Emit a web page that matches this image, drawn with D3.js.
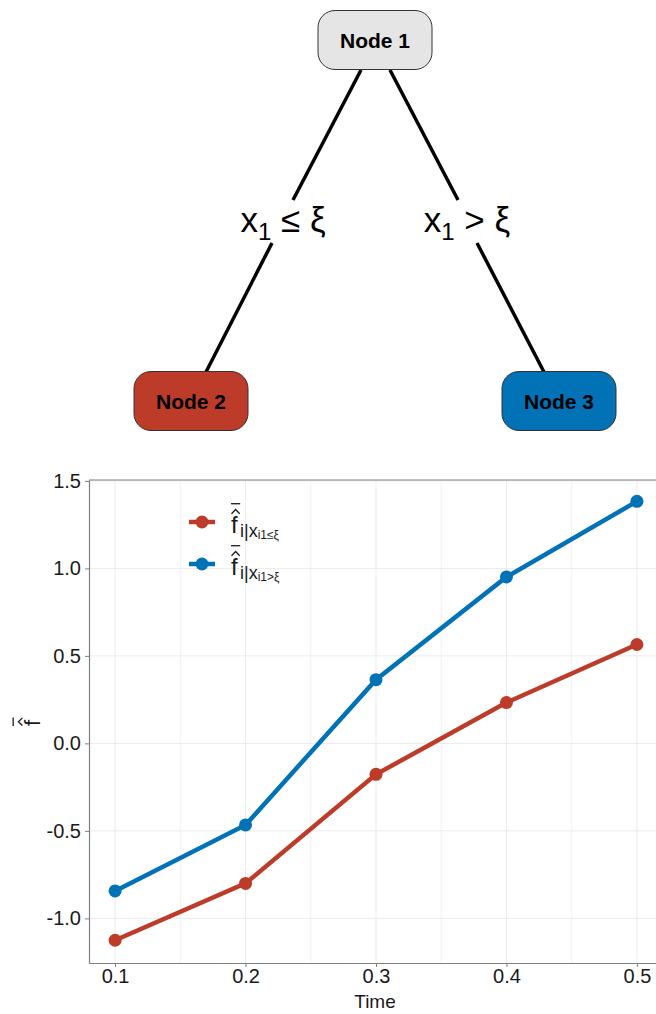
<!DOCTYPE html>
<html>
<head>
<meta charset="utf-8">
<script src="https://cdn.jsdelivr.net/npm/d3@7"></script>
<style>
  body { margin: 0; background: #fff; }
  text { font-family: "Liberation Sans", Arial, sans-serif; }
</style>
</head>
<body>
<svg id="chart" width="656" height="1014"></svg>
<script>
// data
let times = [0.1, 0.2, 0.3, 0.4, 0.5];
let lowVals = [-1.125, -0.80, -0.177, 0.233, 0.565];
let highVals = [-0.843, -0.466, 0.364, 0.951, 1.383];
let xTicks = [0.1, 0.2, 0.3, 0.4, 0.5];
let xMinor = [0.15, 0.25, 0.35, 0.45];
let yTicks = [-1.0, -0.5, 0.0, 0.5, 1.0, 1.5];
let nodeNames = ["Node 1", "Node 2", "Node 3"];
let nodeFills = ["#e5e5e5", "#BC3C29", "#0072B5"];
let splitLabels = ["\u2264", ">"];

let red = "#BC3C29";
let blue = "#0072B5";

let svg = d3.select("#chart");

// ---- tree ----
let nodePos = [[375, 40], [191, 401], [559, 401]];
let boxW = 114, boxH = 59;

// edges, broken around the split labels
let edges = [[361, 70, 293, 200], [272, 243, 206, 372], [390, 70, 458, 200], [477, 243, 544, 372]];
for (let e of edges) {
  svg.append("line")
    .attr("x1", e[0]).attr("y1", e[1])
    .attr("x2", e[2]).attr("y2", e[3])
    .style("stroke", "black")
    .style("stroke-width", 3.5);
}

for (let i = 0; i < nodeNames.length; i++) {
  svg.append("rect")
    .attr("x", nodePos[i][0] - boxW/2)
    .attr("y", nodePos[i][1] - boxH/2)
    .attr("width", boxW)
    .attr("height", boxH)
    .attr("rx", 17)
    .style("fill", nodeFills[i])
    .style("stroke", "#333")
    .style("stroke-width", 1);
  svg.append("text")
    .attr("x", nodePos[i][0])
    .attr("y", nodePos[i][1] + 7.5)
    .text(nodeNames[i])
    .style("text-anchor", "middle")
    .style("font-weight", "bold")
    .style("font-size", 21);
}

// split labels
let splitX = [283, 467];
for (let i = 0; i < splitLabels.length; i++) {
  let t = svg.append("text")
    .attr("x", splitX[i])
    .attr("y", 232)
    .style("text-anchor", "middle")
    .style("font-size", 35);
  t.append("tspan").text("x");
  t.append("tspan").text("1").attr("dy", 8).style("font-size", 24);
  t.append("tspan").text(" " + splitLabels[i] + " \u03BE").attr("dy", -8);
}

// ---- line chart ----
let plot = {left: 89, right: 663, top: 480, bottom: 963};

let x = d3.scaleLinear().domain([0.08, 0.52]).range([plot.left, plot.right]);
let y = d3.scaleLinear().domain([-1.255, 1.505]).range([plot.bottom, plot.top]);

// grid
svg.selectAll(".gx")
  .data(xTicks.concat(xMinor))
  .enter().append("line")
  .attr("x1", d => x(d)).attr("x2", d => x(d))
  .attr("y1", plot.top).attr("y2", plot.bottom)
  .style("stroke", "#ebebeb")
  .style("stroke-width", d => xTicks.includes(d) ? 1 : 0.7);
svg.selectAll(".gy")
  .data(yTicks)
  .enter().append("line")
  .attr("y1", d => y(d)).attr("y2", d => y(d))
  .attr("x1", plot.left).attr("x2", 656)
  .style("stroke", "#ebebeb")
  .style("stroke-width", 1);

// axes
let xAxis = d3.axisBottom(x).tickValues(xTicks).tickSize(4).tickSizeOuter(0).tickPadding(2).tickFormat(d3.format(".1f"));
let yAxis = d3.axisLeft(y).tickValues(yTicks).tickSize(4).tickSizeOuter(0).tickPadding(4).tickFormat(d3.format(".1f"));

let gx = svg.append("g").attr("transform", "translate(0," + plot.bottom + ")").call(xAxis);
let gy = svg.append("g").attr("transform", "translate(" + plot.left + ",0)").call(yAxis);
for (let g of [gx, gy]) {
  g.select(".domain").style("stroke", "#7f7f7f").style("stroke-width", 1.2);
  g.selectAll(".tick line").style("stroke", "#7f7f7f");
  g.selectAll(".tick text")
    .style("font-size", 20)
    .style("fill", "#1a1a1a")
    .style("font-family", "Liberation Sans, Arial, sans-serif");
}
gy.selectAll(".tick text").text(d => d.toFixed(1).replace("-0.0", "0.0"));

// top border
svg.append("line")
  .attr("x1", plot.left).attr("x2", 656)
  .attr("y1", plot.top).attr("y2", plot.top)
  .style("stroke", "#7f7f7f")
  .style("stroke-width", 1.2);

// x label
svg.append("text")
  .attr("x", 375)
  .attr("y", 1008)
  .text("Time")
  .style("text-anchor", "middle")
  .style("font-size", 19)
  .style("fill", "#1a1a1a");

// f with hat and bar, drawn at (fx, fy) baseline
function fHatBar(g, fx, fy, size) {
  g.append("text")
    .attr("x", fx).attr("y", fy)
    .text("f")
    .style("font-size", size)
    .style("fill", "#1a1a1a");
  let w = size * 0.3;
  g.append("path")
    .attr("d", "M" + (fx + 0.5) + "," + (fy - size*0.8) + "L" + (fx + w/2 + 1) + "," + (fy - size*0.98) + "L" + (fx + w + 1.5) + "," + (fy - size*0.8))
    .style("fill", "none")
    .style("stroke", "#1a1a1a")
    .style("stroke-width", 1.3);
  g.append("line")
    .attr("x1", fx).attr("x2", fx + w + 2)
    .attr("y1", fy - size*1.22).attr("y2", fy - size*1.22)
    .style("stroke", "#1a1a1a")
    .style("stroke-width", 1.3);
}

// y label
let ylab = svg.append("g").attr("transform", "translate(40,726) rotate(-90)");
fHatBar(ylab, 0, 0, 22);

// series
let series = [
  {vals: lowVals, color: red, sym: "\u2264"},
  {vals: highVals, color: blue, sym: ">"}
];

let line = d3.line().x(d => x(d[0])).y(d => y(d[1]));

for (let s of series) {
  let pts = times.map((t, i) => [t, s.vals[i]]);
  svg.append("path")
    .datum(pts)
    .attr("d", line)
    .style("fill", "none")
    .style("stroke", s.color)
    .style("stroke-width", 4.5);
  svg.selectAll(null)
    .data(pts)
    .enter().append("circle")
    .attr("cx", d => x(d[0]))
    .attr("cy", d => y(d[1]))
    .attr("r", 6.5)
    .style("fill", s.color);
}

// legend
let legY = [522, 564];
for (let i = 0; i < series.length; i++) {
  let s = series[i];
  let ly = legY[i];
  svg.append("line")
    .attr("x1", 189).attr("x2", 215)
    .attr("y1", ly).attr("y2", ly)
    .style("stroke", s.color)
    .style("stroke-width", 4.5);
  svg.append("circle")
    .attr("cx", 202).attr("cy", ly)
    .attr("r", 6.5)
    .style("fill", s.color);

  let g = svg.append("g");
  fHatBar(g, 231, ly + 11, 24);
  let t = g.append("text")
    .attr("x", 240)
    .attr("y", ly + 15)
    .style("font-size", 18)
    .style("fill", "#1a1a1a");
  t.append("tspan").text("i|x");
  t.append("tspan").text("i1" + s.sym + "\u03BE").attr("dy", 2).style("font-size", 12);
}
</script>
</body>
</html>
